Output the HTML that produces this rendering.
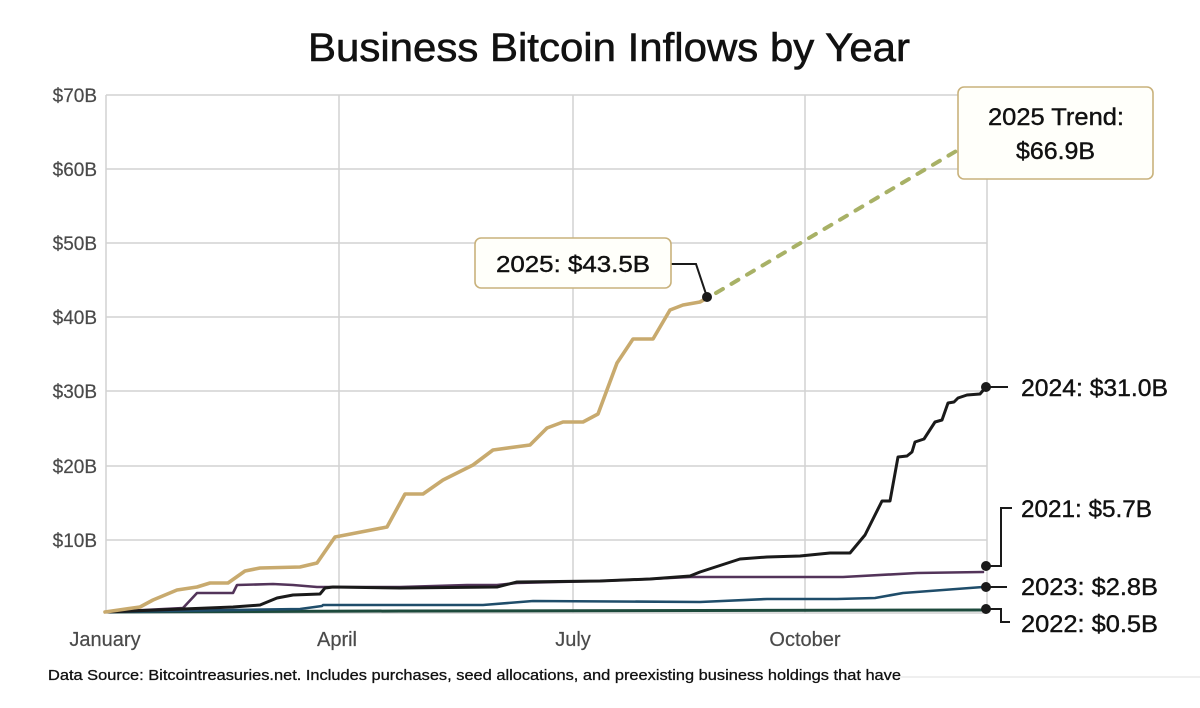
<!DOCTYPE html>
<html>
<head>
<meta charset="utf-8">
<style>
  html,body{margin:0;padding:0;background:#fff;}
  svg{display:block;}
  text{font-family:"Liberation Sans", Arial, sans-serif;}
</style>
</head>
<body>
<svg width="1200" height="708" viewBox="0 0 1200 708" xmlns="http://www.w3.org/2000/svg">
  <rect x="0" y="0" width="1200" height="708" fill="#ffffff"/>

  <!-- Title -->
  <text x="308" y="61" font-size="40" fill="#111" stroke="#111" stroke-width="0.6" textLength="602" lengthAdjust="spacingAndGlyphs">Business Bitcoin Inflows by Year</text>

  <!-- Grid -->
  <g stroke="#d2d2d2" stroke-width="1.5" fill="none">
    <line x1="106" y1="95" x2="987" y2="95"/>
    <line x1="106" y1="169" x2="987" y2="169"/>
    <line x1="106" y1="243" x2="987" y2="243"/>
    <line x1="106" y1="317" x2="987" y2="317"/>
    <line x1="106" y1="391" x2="987" y2="391"/>
    <line x1="106" y1="466" x2="987" y2="466"/>
    <line x1="106" y1="540" x2="987" y2="540"/>
    <line x1="106" y1="613" x2="987" y2="613"/>
    <line x1="106" y1="95" x2="106" y2="613"/>
    <line x1="339" y1="95" x2="339" y2="613"/>
    <line x1="573" y1="95" x2="573" y2="613"/>
    <line x1="805" y1="95" x2="805" y2="613"/>
    <line x1="987" y1="95" x2="987" y2="613"/>
  </g>

  <!-- Y labels -->
  <g font-size="19" fill="#4a4a4a" stroke="#4a4a4a" stroke-width="0.2" text-anchor="end">
    <text x="97" y="102">$70B</text>
    <text x="97" y="176">$60B</text>
    <text x="97" y="250">$50B</text>
    <text x="97" y="324">$40B</text>
    <text x="97" y="398">$30B</text>
    <text x="97" y="473">$20B</text>
    <text x="97" y="547">$10B</text>
  </g>

  <!-- X labels -->
  <g font-size="20" fill="#4a4a4a" stroke="#4a4a4a" stroke-width="0.2" text-anchor="middle">
    <text x="105" y="646">January</text>
    <text x="337" y="646">April</text>
    <text x="573" y="646">July</text>
    <text x="805" y="646">October</text>
  </g>

  <!-- Series -->
  <g fill="none" stroke-linejoin="round" stroke-linecap="round">
    <!-- 2022 green -->
    <polyline stroke="#1d4a3c" stroke-width="3" points="105,612 400,611 986,610"/>
    <!-- 2023 blue -->
    <polyline stroke="#1f4d6a" stroke-width="2.6" points="105,612 300,609 322,606 323,605 400,605 483,605 533,601 700,602 767,599 837,599 875,598 903,593 983,587"/>
    <!-- 2021 purple -->
    <polyline stroke="#53345a" stroke-width="2.6" points="105,612 183,608 197,593 233,593 237,585 273,584 293,585 317,587 400,587 467,585 497,585 517,583 600,581 650,579 690,577 843,577 917,573 983,572"/>
    <!-- 2024 black -->
    <polyline stroke="#1a1a1a" stroke-width="3" points="105,612 183,609 233,607 260,605 277,598 293,595 320,594 325,588 333,587 400,588 497,587 517,582 600,581 650,579 690,576 700,572 740,559 767,557 800,556 830,553 850,553 865,535 882,501 890,501 898,457 907,456 912,452 915,442 924,439 935,422 942,420 948,403 954,402 958,398 967,395 980,394 986,387"/>
    <!-- 2025 tan -->
    <polyline stroke="#c8aa6e" stroke-width="3.6" points="105,612 140,607 153,600 177,590 197,587 210,583 228,583 245,571 260,568 300,567 317,563 335,537 387,527 405,494 423,494 443,480 473,465 493,450 530,445 547,428 563,422 583,422 598,414 617,363 633,339 653,339 670,310 683,305 700,302 707,298"/>
    <!-- Trend dotted -->
    <line x1="716" y1="293" x2="958" y2="150" stroke="#a8b166" stroke-width="4" stroke-dasharray="8,10"/>
  </g>

  <!-- Connectors -->
  <g fill="none" stroke="#1a1a1a" stroke-width="2">
    <polyline points="671,264 696,264 707,297"/>
    <polyline points="986,387 1008,387"/>
    <polyline points="986,566 1001,566 1001,508 1012,508"/>
    <polyline points="986,587 1007,587"/>
    <polyline points="986,609 1001,609 1001,622 1010,622"/>
  </g>

  <!-- Dots -->
  <g fill="#1a1a1a">
    <circle cx="707" cy="297" r="5"/>
    <circle cx="986" cy="387" r="5"/>
    <circle cx="986" cy="566" r="5"/>
    <circle cx="986" cy="587" r="5"/>
    <circle cx="986" cy="609" r="5"/>
  </g>

  <!-- 2025 annotation box -->
  <rect x="475" y="238" width="196" height="50" rx="6" ry="6" fill="#fffffa" stroke="#c9b27c" stroke-width="1.6"/>
  <text x="496" y="272" font-size="23" fill="#111" stroke="#111" stroke-width="0.4" textLength="154" lengthAdjust="spacingAndGlyphs">2025: $43.5B</text>

  <!-- Trend box -->
  <rect x="958" y="87" width="195" height="92" rx="6" ry="6" fill="#fffffa" stroke="#c9b27c" stroke-width="1.6"/>
  <text x="988" y="125" font-size="24" fill="#111" stroke="#111" stroke-width="0.4" textLength="136" lengthAdjust="spacingAndGlyphs">2025 Trend:</text>
  <text x="1016" y="159" font-size="24" fill="#111" stroke="#111" stroke-width="0.4" textLength="79" lengthAdjust="spacingAndGlyphs">$66.9B</text>

  <!-- Right labels -->
  <g font-size="24" fill="#111" stroke="#111" stroke-width="0.4">
    <text x="1021" y="396" textLength="147" lengthAdjust="spacingAndGlyphs">2024: $31.0B</text>
    <text x="1021" y="517" textLength="131" lengthAdjust="spacingAndGlyphs">2021: $5.7B</text>
    <text x="1021" y="595" textLength="137" lengthAdjust="spacingAndGlyphs">2023: $2.8B</text>
    <text x="1021" y="632" textLength="137" lengthAdjust="spacingAndGlyphs">2022: $0.5B</text>
  </g>

  <!-- Footer -->
  <text x="48" y="680" font-size="15" fill="#111" stroke="#111" stroke-width="0.3" textLength="853" lengthAdjust="spacingAndGlyphs">Data Source: Bitcointreasuries.net. Includes purchases, seed allocations, and preexisting business holdings that have</text>
  <line x1="900" y1="677" x2="1200" y2="677" stroke="#efefef" stroke-width="2"/>
</svg>
</body>
</html>
